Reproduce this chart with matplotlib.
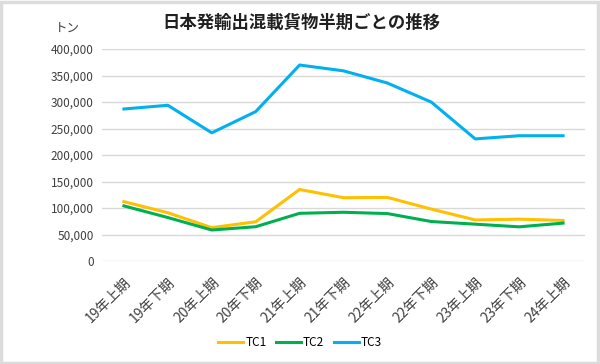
import matplotlib.pyplot as plt
from matplotlib.patches import Rectangle

plt.rcParams['font.family'] = ['Noto Sans CJK JP', 'DejaVu Sans']

periods = ['19年上期', '19年下期', '20年上期', '20年下期', '21年上期', '21年下期',
           '22年上期', '22年下期', '23年上期', '23年下期', '24年上期']
tc1 = [112000, 91000, 63000, 74000, 135000, 119500, 120000, 98000, 77500, 79000, 76500]
tc2 = [104000, 82000, 58500, 64700, 90000, 92000, 89500, 74500, 69500, 64500, 71500]
tc3 = [287000, 294000, 242000, 282000, 370000, 359000, 336000, 300000, 230500, 236500, 236500]

fig = plt.figure(figsize=(6, 3.64), dpi=100)
ax = fig.add_axes([0.17, 0.283, 0.805, 0.582])

x = range(len(periods))
ax.plot(x, tc1, color='#ffc000', lw=2.2, label='TC1')
ax.plot(x, tc2, color='#00b050', lw=2.2, label='TC2')
ax.plot(x, tc3, color='#00b0f0', lw=2.2, label='TC3')

ax.set_xlim(-0.5, len(periods) - 0.5)
ax.set_ylim(0, 400000)
ax.set_yticks(range(0, 400001, 50000))
ax.set_yticklabels([f'{v:,}' for v in range(0, 400001, 50000)], fontsize=8.5, color='#404040')
ax.set_xticks(list(x))
ax.set_xticklabels(periods, rotation=45, ha='right', rotation_mode='anchor',
                   fontsize=10, color='#404040')
ax.grid(axis='y', color='#d9d9d9', lw=1)
ax.set_axisbelow(True)
for s in ax.spines.values():
    s.set_visible(False)
ax.tick_params(axis='y', length=0, pad=6)
ax.tick_params(axis='x', length=0, pad=10)

fig.text(0.502, 0.937, '日本発輸出混載貨物半期ごとの推移', ha='center', va='center',
         fontsize=12.5, fontweight='bold', color='#202020')
fig.text(0.113, 0.922, 'トン', ha='center', va='center', fontsize=9, color='#404040')

fig.legend(loc='center', bbox_to_anchor=(0.5, 0.058), ncol=3, frameon=False,
           fontsize=8.5, handlelength=2.1, columnspacing=0.8, handletextpad=0.2)

fig.patches.append(Rectangle((0.002, 0.003), 0.994, 0.991, transform=fig.transFigure,
                             fill=False, ec='#dcdcdc', lw=2.5))

fig.savefig('out.png', dpi=100)
